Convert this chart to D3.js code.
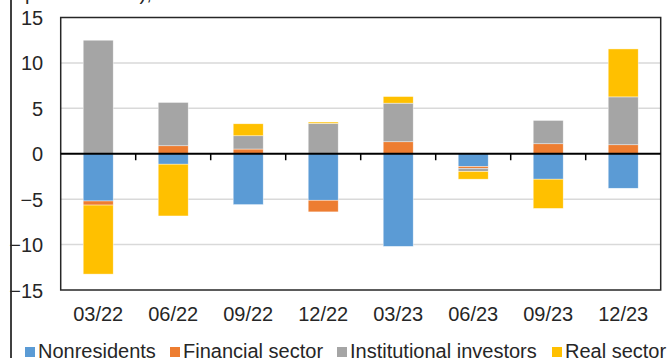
<!DOCTYPE html>
<html>
<head>
<meta charset="utf-8">
<script src="https://cdn.jsdelivr.net/npm/d3@7"></script>
<style>
  html, body { margin: 0; padding: 0; background: #fff; }
  svg { display: block; font-family: "Liberation Sans", Arial, sans-serif; }
</style>
</head>
<body>
<svg id="chart" width="670" height="358"></svg>
<script>
// ---- data ----
const categories = ["03/22", "06/22", "09/22", "12/22", "03/23", "06/23", "09/23", "12/23"];
const seriesNames = ["Nonresidents", "Financial sector", "Institutional investors", "Real sector"];
const nonresidents   = [-5.2, -1.15, -5.6, -5.12, -10.2, -1.4, -2.8, -3.8];
const financialSector = [-0.45, 0.88, 0.52, -1.28, 1.32, -0.2, 1.1, 0.99];
const institutional  = [12.5, 4.77, 1.46, 3.34, 4.25, -0.35, 2.57, 5.27];
const realSector     = [-7.6, -5.7, 1.32, 0.15, 0.73, -0.85, -3.22, 5.28];
const yTicks = [-15, -10, -5, 0, 5, 10, 15];
const colors = ["#5B9BD5", "#ED7D31", "#A5A5A5", "#FFC000"];

const seriesValues = [nonresidents, financialSector, institutional, realSector];
const table = categories.map((c, i) => {
  const row = { cat: c };
  seriesNames.forEach((s, j) => row[s] = seriesValues[j][i]);
  return row;
});

const svg = d3.select("#chart");
const plot = { left: 60.7, right: 660.7, top: 17.5, bottom: 290 };

const x = d3.scaleBand().domain(categories).range([plot.left, plot.right])
  .paddingInner(0.6).paddingOuter(0.3);
const y = d3.scaleLinear().domain([-15, 15]).range([plot.bottom, plot.top]);

// outer left frame line
svg.append("line").attr("x1", 11).attr("x2", 11).attr("y1", 0).attr("y2", 358)
  .attr("stroke", "#000").attr("stroke-width", 1.5);

// partially visible top text
svg.append("text").attr("x", 25).attr("y", -0.5).attr("font-size", 20)
  .attr("fill", "#262626").text("percent of all),");

// gridlines
svg.append("g").selectAll("line").data(yTicks.filter(t => t !== 0 && Math.abs(t) !== 15))
  .join("line")
  .attr("x1", plot.left).attr("x2", plot.right)
  .attr("y1", d => y(d)).attr("y2", d => y(d))
  .attr("stroke", "#d9d9d9").attr("stroke-width", 1.5);

// stacked bars
const stack = d3.stack().keys(seriesNames).offset(d3.stackOffsetDiverging);
const stacked = stack(table);
svg.append("g").selectAll("g").data(stacked).join("g")
  .attr("fill", (d, i) => colors[i])
  .selectAll("rect").data(d => d).join("rect")
  .attr("x", d => x(d.data.cat))
  .attr("width", x.bandwidth())
  .attr("y", d => y(Math.max(d[0], d[1])))
  .attr("height", d => Math.abs(y(d[0]) - y(d[1])))
  .attr("stroke", "#ffffff").attr("stroke-width", 0.6).attr("stroke-opacity", 0.7);

// plot border
svg.append("rect").attr("x", plot.left).attr("y", plot.top)
  .attr("width", plot.right - plot.left).attr("height", plot.bottom - plot.top)
  .attr("fill", "none").attr("stroke", "#262626").attr("stroke-width", 1.5);

// zero axis with ticks between categories
const xAxis = d3.axisBottom(x).tickSize(0).tickFormat("");
const zeroG = svg.append("g").attr("transform", `translate(0,${y(0)})`);
zeroG.append("line").attr("x1", plot.left).attr("x2", plot.right)
  .attr("stroke", "#000").attr("stroke-width", 2.2);
const step = x.step();
zeroG.selectAll("line.tk").data(categories.slice(1)).join("line").attr("class", "tk")
  .attr("x1", d => x(d) - (step - x.bandwidth()) / 2).attr("x2", d => x(d) - (step - x.bandwidth()) / 2)
  .attr("y1", 0).attr("y2", 6.5).attr("stroke", "#000").attr("stroke-width", 1.5);

// x labels (category axis)
const xa = svg.append("g").attr("transform", `translate(0,${plot.bottom})`)
  .call(d3.axisBottom(x).tickSize(0).tickPadding(0));
xa.select(".domain").remove();
xa.selectAll("text").attr("font-size", 20).attr("fill", "#262626")
  .attr("font-family", "Liberation Sans, Arial, sans-serif")
  .attr("dy", null).attr("y", 31);

// y labels
const ya = svg.append("g").attr("transform", `translate(${plot.left},0)`)
  .call(d3.axisLeft(y).tickValues(yTicks).tickSize(0).tickPadding(17.5));
ya.select(".domain").remove();
ya.selectAll("text").attr("font-size", 20).attr("fill", "#262626")
  .attr("font-family", "Liberation Sans, Arial, sans-serif").attr("dy", "0.35em");

// legend
const legendX = [25, 170, 337, 552];
const lg = svg.append("g").selectAll("g").data(seriesNames).join("g")
  .attr("transform", (d, i) => `translate(${legendX[i]},0)`);
lg.append("rect").attr("x", 0).attr("y", 347).attr("width", 10).attr("height", 10)
  .attr("fill", (d, i) => colors[i]);
lg.append("text").attr("x", 13).attr("y", 358).attr("font-size", 20).attr("fill", "#262626")
  .text(d => d);
</script>
</body>
</html>
